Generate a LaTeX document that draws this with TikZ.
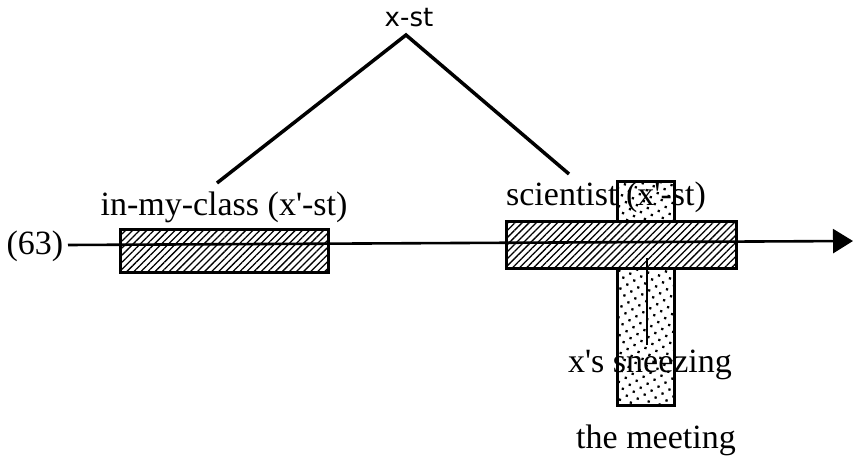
\documentclass[tikz,border=0pt]{standalone}
\usepackage{fontspec}
\setmainfont{Liberation Serif}
\newfontfamily\sansf{DejaVu Sans}
\usetikzlibrary{patterns.meta,arrows.meta}
\newcommand{\ap}{\textquotesingle}
\tikzset{
  lbl/.style={inner sep=0pt, anchor=base, font=\fontsize{34}{40}\selectfont},
  toplbl/.style={inner sep=0pt, anchor=base, font=\sansf\fontsize{26}{30}\selectfont},
  hatchbox/.style={draw, line width=3pt, inner sep=0pt, fill=white,
    postaction={pattern={Lines[angle=45,distance=5pt,line width=1.3pt]}}},
  dotbox/.style={draw, line width=3pt, inner sep=0pt, fill=white,
    postaction={pattern={Dots[angle=30,distance=8pt,radius=1.6pt]}}},
  treeline/.style={line width=3.5pt},
  timeline/.style={line width=2.6pt},
}
\begin{document}
\begin{tikzpicture}[x=1pt,y=-1pt]
\useasboundingbox (0,0) rectangle (857,462);
% labels
\node[toplbl] (top) at (409,27) {x-st};
\node[lbl] (lclass) at (224,216) {in-my-class (x\ap-st)};
\node[lbl] (num) at (35,255) {(63)};
% vertical dotted box (behind)
\node[dotbox, minimum width=57pt, minimum height=223pt] (meet) at (645.5,293.5) {};
% hatched boxes
\node[hatchbox, minimum width=208pt, minimum height=43pt] (lbox) at (224,251.5) {};
\node[hatchbox, minimum width=230pt, minimum height=47pt] (rbox) at (621,245) {};
% texts over the boxes
\node[lbl] (rsci) at (606,206) {scientist (x\ap-st)};
\node[lbl] (sneeze) at (650,372) {x\ap s sneezing};
\node[lbl] (meeting) at (656,448) {the meeting};
% tree
\coordinate (apex) at (406,35);
\coordinate (lend) at (217,183);
\coordinate (rend) at (569,174);
\draw[treeline] (lend) -- (apex) -- (rend);
% timeline
\coordinate (tstart) at (68,245);
\coordinate (tend) at (853,241);
\draw[timeline, -{Triangle[length=20pt,width=24pt]}] (tstart) -- (tend);
% sneeze instant
\coordinate (s1) at (647,258);
\coordinate (s2) at (647,345);
\draw[line width=2.4pt] (s1) -- (s2);
\end{tikzpicture}
\end{document}
